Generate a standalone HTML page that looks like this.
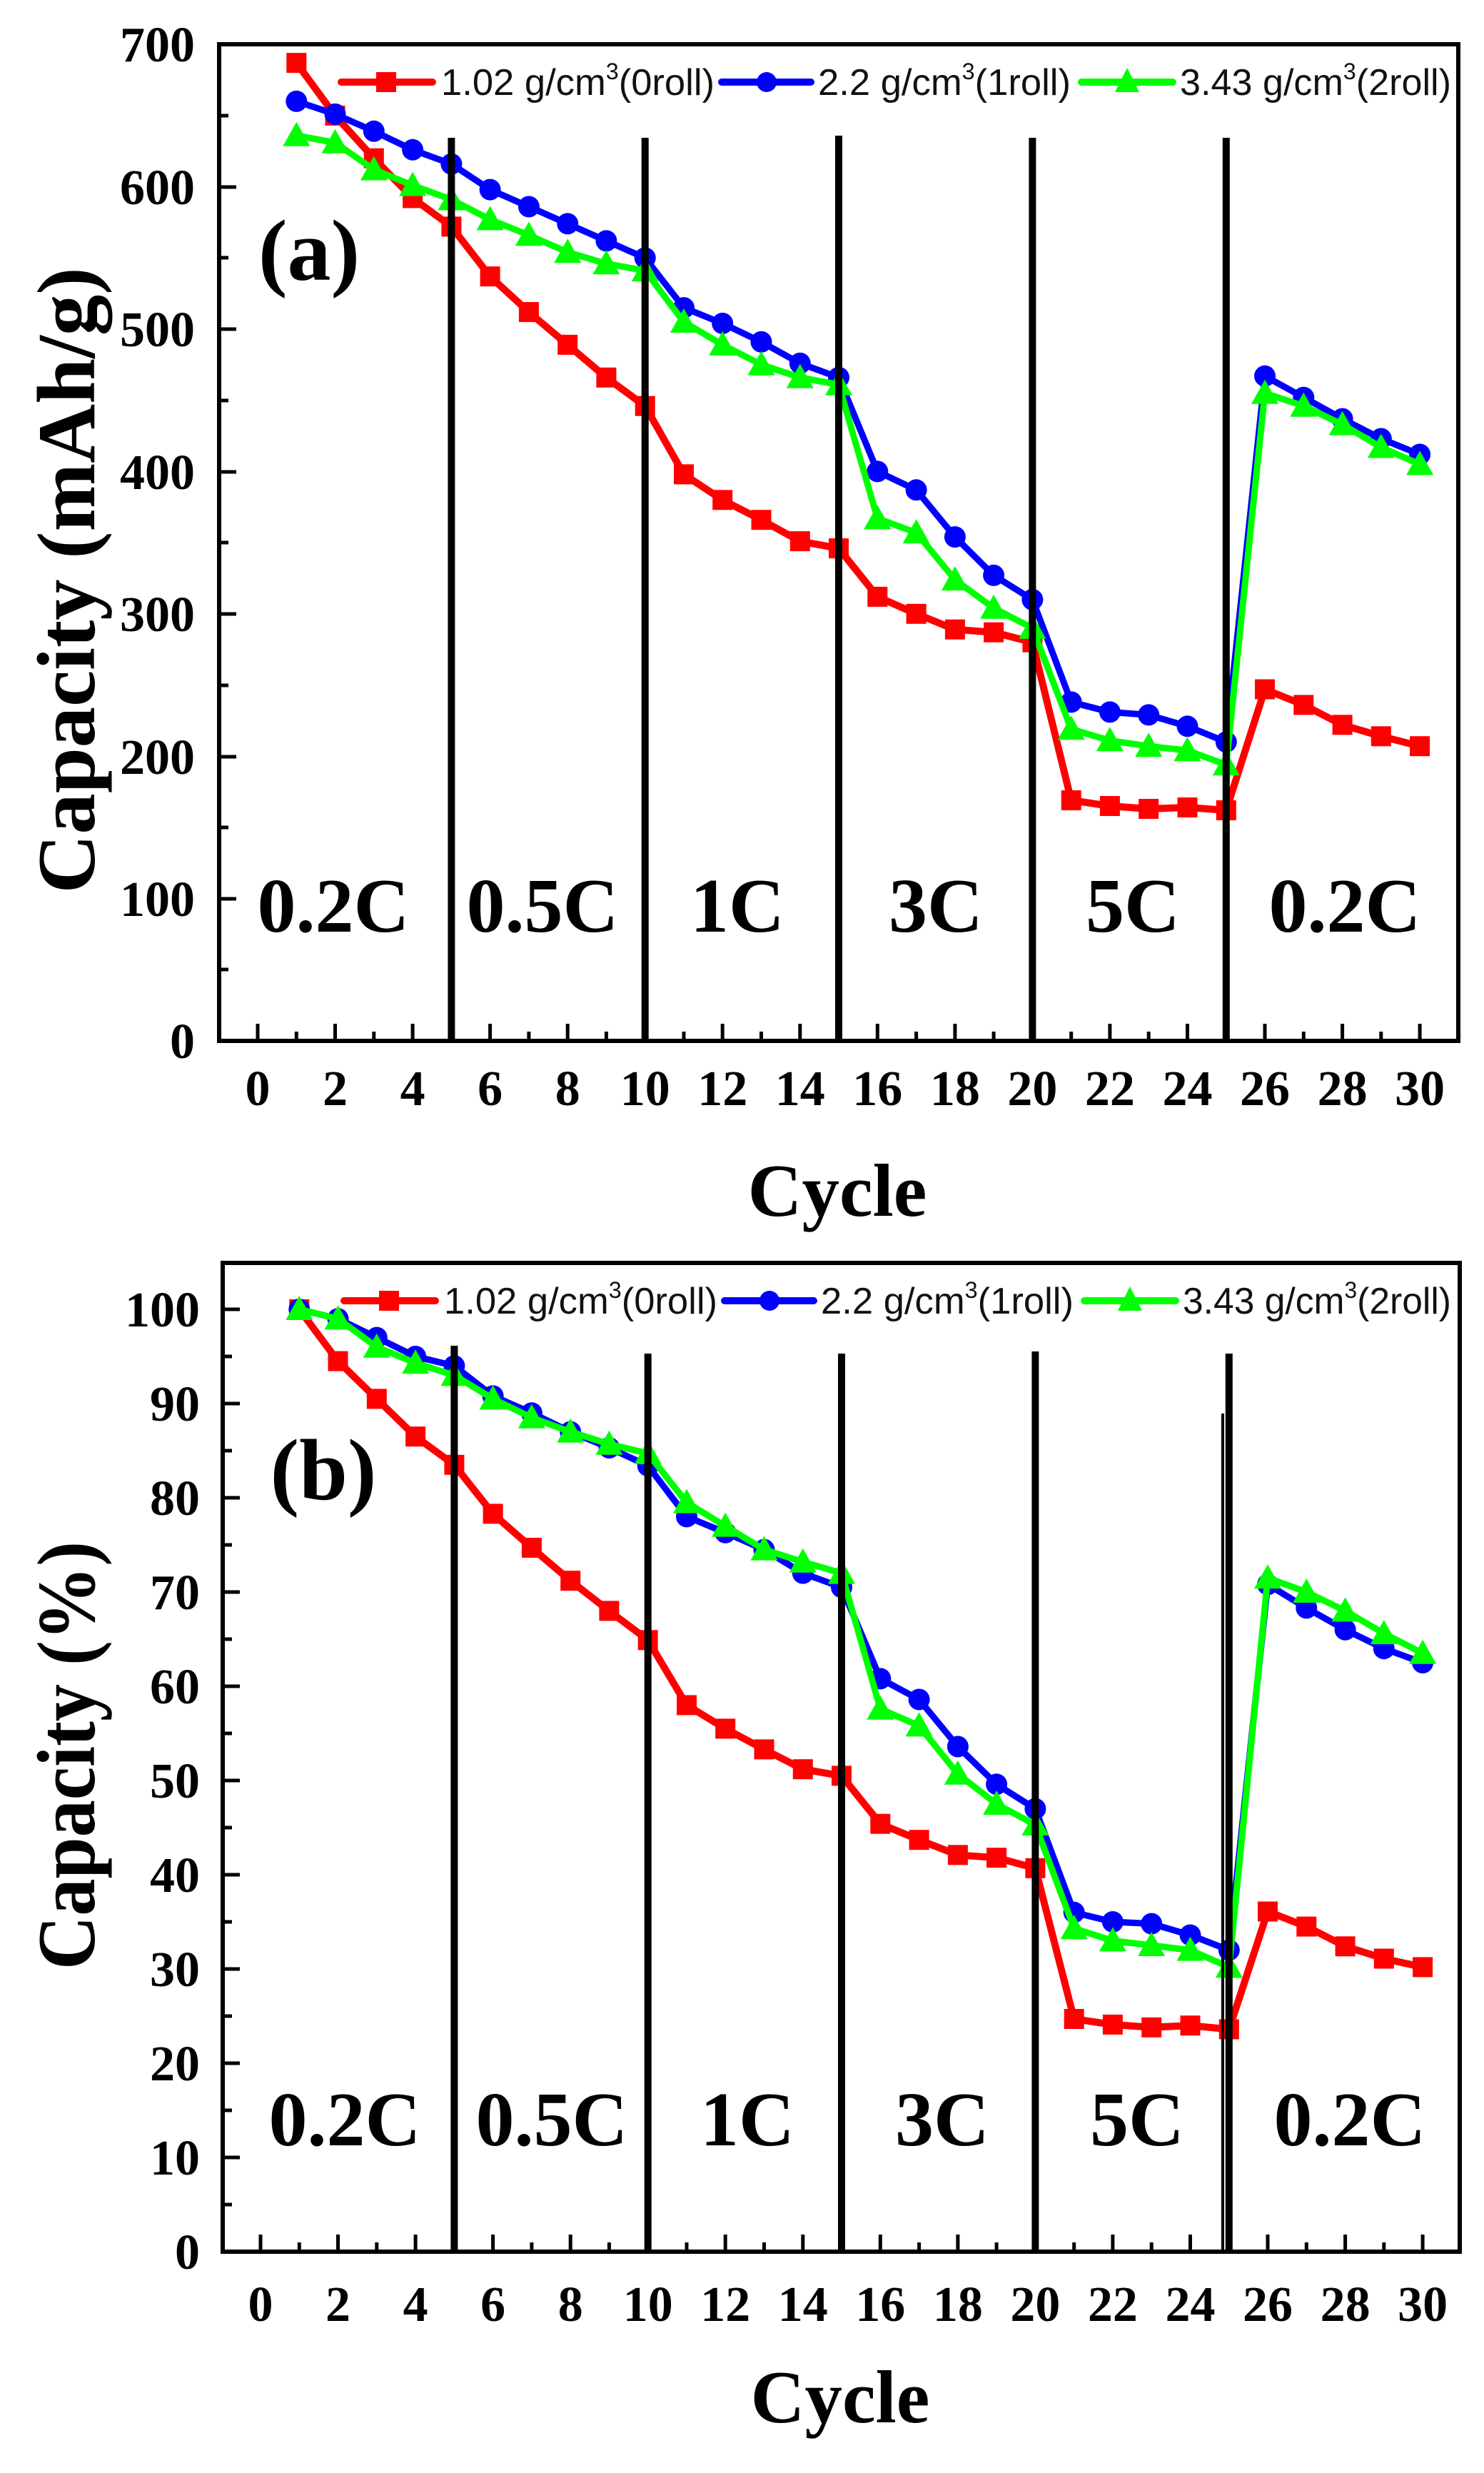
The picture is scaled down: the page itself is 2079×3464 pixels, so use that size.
<!DOCTYPE html>
<html><head><meta charset="utf-8"><style>
html,body{margin:0;padding:0;background:#fff}
svg{display:block}
.t{font-family:"Liberation Serif",serif;font-weight:bold;fill:#000}
.l{font-family:"Liberation Sans",sans-serif;fill:#111}
</style></head><body>
<svg width="2079" height="3464" viewBox="0 0 2079 3464" xmlns="http://www.w3.org/2000/svg">
<defs>
<marker id="ms" markerUnits="userSpaceOnUse" markerWidth="30" markerHeight="30" refX="15" refY="15" overflow="visible"><rect x="1" y="1" width="28" height="28" fill="#f00"/></marker>
<marker id="mc" markerUnits="userSpaceOnUse" markerWidth="32" markerHeight="32" refX="16" refY="16" overflow="visible"><circle cx="16" cy="16" r="15" fill="#00f"/></marker>
<marker id="mt" markerUnits="userSpaceOnUse" markerWidth="40" markerHeight="40" refX="20" refY="22" overflow="visible"><polygon points="20,3 39,37 1,37" fill="#0f0"/></marker>
</defs>
<rect width="2079" height="3464" fill="#fff"/>

<!-- ===== PANEL A ===== -->
<g fill="none" stroke-linejoin="round">
<polyline stroke="#f00" stroke-width="10" marker-start="url(#ms)" marker-mid="url(#ms)" marker-end="url(#ms)" points="415.3,88.1 469.5,161.9 523.8,221.7 578.1,277.5 632.4,317.4 686.6,387.2 740.9,437.1 795.2,482.9 849.4,528.8 903.7,568.7 958,664.4 1012.2,700.3 1066.5,728.2 1120.8,758.1 1175,768.1 1229.3,835.9 1283.6,859.8 1337.9,881.7 1392.1,885.7 1446.4,899.7 1500.7,1121 1554.9,1129 1609.2,1133 1663.5,1131 1717.8,1135 1772,965.5 1826.3,987.4 1880.6,1015.3 1934.8,1031.3 1989.1,1045.2"/>
<polyline stroke="#00f" stroke-width="9" marker-start="url(#mc)" marker-mid="url(#mc)" marker-end="url(#mc)" points="415.3,141.9 469.5,159.9 523.8,183.8 578.1,209.8 632.4,229.7 686.6,265.6 740.9,289.5 795.2,313.4 849.4,337.4 903.7,361.3 958,431.1 1012.2,453 1066.5,478.9 1120.8,508.9 1175,528.8 1229.3,660.4 1283.6,686.3 1337.9,752.1 1392.1,805.9 1446.4,839.9 1500.7,983.4 1554.9,997.4 1609.2,1001.4 1663.5,1017.3 1717.8,1039.3 1772,526.8 1826.3,556.7 1880.6,586.6 1934.8,614.5 1989.1,636.5"/>
<polyline stroke="#0f0" stroke-width="9" marker-start="url(#mt)" marker-mid="url(#mt)" marker-end="url(#mt)" points="415.3,189.8 469.5,199.8 523.8,237.6 578.1,259.6 632.4,279.5 686.6,307.5 740.9,329.4 795.2,353.3 849.4,369.3 903.7,379.2 958,451 1012.2,482.9 1066.5,510.8 1120.8,528.8 1175,538.8 1229.3,726.2 1283.6,746.1 1337.9,812.1 1392.1,851.8 1446.4,879.7 1500.7,1021.3 1554.9,1037.3 1609.2,1045.2 1663.5,1051.2 1717.8,1071.2 1772,550.7 1826.3,568.7 1880.6,594.6 1934.8,626.5 1989.1,650.4"/>
</g>
<g stroke="#000" stroke-width="10">
<line x1="632.4" y1="193" x2="632.4" y2="1458"/>
<line x1="903.7" y1="193" x2="903.7" y2="1458"/>
<line x1="1175" y1="190" x2="1175" y2="1458"/>
<line x1="1446.4" y1="193" x2="1446.4" y2="1458"/>
<line x1="1717.8" y1="193" x2="1717.8" y2="1458"/>
</g>
<rect x="307" y="62" width="1736" height="1396" fill="none" stroke="#000" stroke-width="6"/>
<g stroke="#000" stroke-width="5">
<!-- y ticks -->
<path d="M307,1259h24M307,1060h24M307,860h24M307,661h24M307,461h24M307,262h24"/>
<path d="M307,1358h13M307,1159h13M307,960h13M307,760h13M307,561h13M307,361h13M307,162h13"/>
<!-- x ticks -->
<path d="M361,1458v-24M469.5,1458v-24M578.1,1458v-24M686.6,1458v-24M795.2,1458v-24M903.7,1458v-24M1012.2,1458v-24M1120.8,1458v-24M1229.3,1458v-24M1337.9,1458v-24M1446.4,1458v-24M1554.9,1458v-24M1663.5,1458v-24M1772,1458v-24M1880.6,1458v-24M1989.1,1458v-24"/>
<path d="M415.3,1458v-13M523.8,1458v-13M632.4,1458v-13M740.9,1458v-13M849.4,1458v-13M958,1458v-13M1066.5,1458v-13M1175,1458v-13M1283.6,1458v-13M1392.1,1458v-13M1500.7,1458v-13M1609.2,1458v-13M1717.8,1458v-13M1826.3,1458v-13M1934.8,1458v-13"/>
</g>
<g class="t" font-size="70" text-anchor="end">
<text x="273" y="1482">0</text><text x="273" y="1283">100</text><text x="273" y="1084">200</text><text x="273" y="884">300</text><text x="273" y="685">400</text><text x="273" y="485">500</text><text x="273" y="286">600</text><text x="273" y="86">700</text>
</g>
<g class="t" font-size="70" text-anchor="middle">
<text x="361" y="1548">0</text><text x="469.5" y="1548">2</text><text x="578.1" y="1548">4</text><text x="686.6" y="1548">6</text><text x="795.2" y="1548">8</text><text x="903.7" y="1548">10</text><text x="1012.2" y="1548">12</text><text x="1120.8" y="1548">14</text><text x="1229.3" y="1548">16</text><text x="1337.9" y="1548">18</text><text x="1446.4" y="1548">20</text><text x="1554.9" y="1548">22</text><text x="1663.5" y="1548">24</text><text x="1772" y="1548">26</text><text x="1880.6" y="1548">28</text><text x="1989.1" y="1548">30</text>
</g>
<text class="t" font-size="105" x="1173" y="1703" text-anchor="middle">Cycle</text>
<text class="t" font-size="115" text-anchor="middle" transform="translate(132,813) rotate(-90)" textLength="877" lengthAdjust="spacingAndGlyphs">Capacity (mAh/g)</text>
<text class="t" font-size="122" x="433" y="392" text-anchor="middle">(a)</text>
<g class="t" font-size="108" text-anchor="middle">
<text x="467" y="1305">0.2C</text><text x="760" y="1305">0.5C</text><text x="1033" y="1305">1C</text><text x="1311" y="1305">3C</text><text x="1587" y="1305">5C</text><text x="1884" y="1305">0.2C</text>
</g>
<!-- legend A -->
<g>
<line x1="478" y1="115" x2="606" y2="115" stroke="#f00" stroke-width="10" stroke-linecap="round"/><rect x="527" y="101" width="28" height="28" fill="#f00"/>
<text class="l" font-size="52" x="618" y="133" textLength="383" lengthAdjust="spacingAndGlyphs">1.02 g/cm<tspan font-size="32" dy="-22">3</tspan><tspan dy="22">(0roll)</tspan></text>
<line x1="1011" y1="115" x2="1136" y2="115" stroke="#00f" stroke-width="10" stroke-linecap="round"/><circle cx="1074" cy="115" r="14" fill="#00f"/>
<text class="l" font-size="52" x="1146" y="133" textLength="354" lengthAdjust="spacingAndGlyphs">2.2 g/cm<tspan font-size="32" dy="-22">3</tspan><tspan dy="22">(1roll)</tspan></text>
<line x1="1515" y1="115" x2="1643" y2="115" stroke="#0f0" stroke-width="10" stroke-linecap="round"/><polygon points="1579,95 1596,129 1562,129" fill="#0f0"/>
<text class="l" font-size="52" x="1653" y="133" textLength="380" lengthAdjust="spacingAndGlyphs">3.43 g/cm<tspan font-size="32" dy="-22">3</tspan><tspan dy="22">(2roll)</tspan></text>
</g>

<!-- ===== PANEL B ===== -->
<g transform="translate(4,0)">
<g fill="none" stroke-linejoin="round">
<polyline stroke="#f00" stroke-width="10" marker-start="url(#ms)" marker-mid="url(#ms)" marker-end="url(#ms)" points="415.3,1834 469.5,1906.6 523.8,1959.4 578.1,2012.2 632.4,2051.8 686.6,2120.4 740.9,2168 795.2,2214.2 849.4,2256.4 903.7,2297.3 958,2388.4 1012.2,2421.4 1066.5,2450.4 1120.8,2478.2 1175,2487.4 1229.3,2554.7 1283.6,2577.2 1337.9,2598.3 1392.1,2602.2 1446.4,2616.8 1500.7,2828 1554.9,2835.9 1609.2,2839.8 1663.5,2837.2 1717.8,2842.5 1772,2677.5 1826.3,2698.6 1880.6,2726.3 1934.8,2743.5 1989.1,2755.4"/>
<polyline stroke="#00f" stroke-width="9" marker-start="url(#mc)" marker-mid="url(#mc)" marker-end="url(#mc)" points="415.3,1834 469.5,1847.2 523.8,1873.6 578.1,1900 632.4,1913.2 686.6,1955.4 740.9,1979.2 795.2,2005.6 849.4,2028 903.7,2053.1 958,2124.4 1012.2,2146.8 1066.5,2170.6 1120.8,2203.6 1175,2223.4 1229.3,2351.4 1283.6,2380.5 1337.9,2446.5 1392.1,2499.3 1446.4,2533.6 1500.7,2678.8 1554.9,2692 1609.2,2694.6 1663.5,2710.5 1717.8,2731.6 1772,2219.4 1826.3,2252.4 1880.6,2282.8 1934.8,2309.2 1989.1,2329"/>
<polyline stroke="#0f0" stroke-width="9" marker-start="url(#mt)" marker-mid="url(#mt)" marker-end="url(#mt)" points="415.3,1834 469.5,1847.2 523.8,1886.8 578.1,1909.2 632.4,1926.4 686.6,1959.4 740.9,1985.8 795.2,2005.6 849.4,2022.8 903.7,2035.8 958,2104.6 1012.2,2137.6 1066.5,2170.6 1120.8,2187.8 1175,2203.6 1229.3,2393.7 1283.6,2417.4 1337.9,2484.8 1392.1,2527 1446.4,2556 1500.7,2701.2 1554.9,2718.4 1609.2,2725 1663.5,2731.6 1717.8,2755.4 1772,2210.2 1826.3,2230 1880.6,2256.4 1934.8,2288.1 1989.1,2315.8"/>
</g>
<g stroke="#000" stroke-width="10">
<line x1="632.4" y1="1885" x2="632.4" y2="3154"/>
<line x1="903.7" y1="1896" x2="903.7" y2="3154"/>
<line x1="1175" y1="1896" x2="1175" y2="3154"/>
<line x1="1446.4" y1="1893" x2="1446.4" y2="3154"/>
<line x1="1717.8" y1="1896" x2="1717.8" y2="3154"/>
</g>
<line x1="1709" y1="1980" x2="1709" y2="3154" stroke="#000" stroke-width="4"/>
</g>
<rect x="312" y="1769" width="1733" height="1385" fill="none" stroke="#000" stroke-width="6"/>
<g stroke="#000" stroke-width="5">
<path d="M312,3022h24M312,2890h24M312,2758h24M312,2626h24M312,2494h24M312,2362h24M312,2230h24M312,2098h24M312,1966h24M312,1834h24"/>
<path d="M312,3088h13M312,2956h13M312,2824h13M312,2692h13M312,2560h13M312,2428h13M312,2296h13M312,2164h13M312,2032h13M312,1900h13"/>
<path d="M365,3154v-24M473.5,3154v-24M582.1,3154v-24M690.6,3154v-24M799.2,3154v-24M907.7,3154v-24M1016.2,3154v-24M1124.8,3154v-24M1233.3,3154v-24M1341.9,3154v-24M1450.4,3154v-24M1558.9,3154v-24M1667.5,3154v-24M1776,3154v-24M1884.6,3154v-24M1993.1,3154v-24"/>
<path d="M419.3,3154v-13M527.8,3154v-13M636.4,3154v-13M744.9,3154v-13M853.4,3154v-13M962,3154v-13M1070.5,3154v-13M1179,3154v-13M1287.6,3154v-13M1396.1,3154v-13M1504.7,3154v-13M1613.2,3154v-13M1721.8,3154v-13M1830.3,3154v-13M1938.8,3154v-13"/>
</g>
<g class="t" font-size="70" text-anchor="end">
<text x="280" y="3178">0</text><text x="280" y="3046">10</text><text x="280" y="2914">20</text><text x="280" y="2782">30</text><text x="280" y="2650">40</text><text x="280" y="2518">50</text><text x="280" y="2386">60</text><text x="280" y="2254">70</text><text x="280" y="2122">80</text><text x="280" y="1990">90</text><text x="280" y="1858">100</text>
</g>
<g class="t" font-size="70" text-anchor="middle">
<text x="365" y="3251">0</text><text x="473.5" y="3251">2</text><text x="582.1" y="3251">4</text><text x="690.6" y="3251">6</text><text x="799.2" y="3251">8</text><text x="907.7" y="3251">10</text><text x="1016.2" y="3251">12</text><text x="1124.8" y="3251">14</text><text x="1233.3" y="3251">16</text><text x="1341.9" y="3251">18</text><text x="1450.4" y="3251">20</text><text x="1558.9" y="3251">22</text><text x="1667.5" y="3251">24</text><text x="1776" y="3251">26</text><text x="1884.6" y="3251">28</text><text x="1993.1" y="3251">30</text>
</g>
<text class="t" font-size="105" x="1177" y="3393" text-anchor="middle">Cycle</text>
<text class="t" font-size="115" text-anchor="middle" transform="translate(132,2459) rotate(-90)" textLength="600" lengthAdjust="spacingAndGlyphs">Capacity (%)</text>
<text class="t" font-size="122" x="453" y="2100" text-anchor="middle">(b)</text>
<g class="t" font-size="108" text-anchor="middle">
<text x="483" y="3005">0.2C</text><text x="773" y="3005">0.5C</text><text x="1047" y="3005">1C</text><text x="1320" y="3005">3C</text><text x="1593" y="3005">5C</text><text x="1891" y="3005">0.2C</text>
</g>
<g transform="translate(4,1707)">
<line x1="478" y1="115" x2="606" y2="115" stroke="#f00" stroke-width="10" stroke-linecap="round"/><rect x="527" y="101" width="28" height="28" fill="#f00"/>
<text class="l" font-size="52" x="618" y="133" textLength="383" lengthAdjust="spacingAndGlyphs">1.02 g/cm<tspan font-size="32" dy="-22">3</tspan><tspan dy="22">(0roll)</tspan></text>
<line x1="1011" y1="115" x2="1136" y2="115" stroke="#00f" stroke-width="10" stroke-linecap="round"/><circle cx="1074" cy="115" r="14" fill="#00f"/>
<text class="l" font-size="52" x="1146" y="133" textLength="354" lengthAdjust="spacingAndGlyphs">2.2 g/cm<tspan font-size="32" dy="-22">3</tspan><tspan dy="22">(1roll)</tspan></text>
<line x1="1515" y1="115" x2="1643" y2="115" stroke="#0f0" stroke-width="10" stroke-linecap="round"/><polygon points="1579,95 1596,129 1562,129" fill="#0f0"/>
<text class="l" font-size="52" x="1653" y="133" textLength="376" lengthAdjust="spacingAndGlyphs">3.43 g/cm<tspan font-size="32" dy="-22">3</tspan><tspan dy="22">(2roll)</tspan></text>
</g>
</svg>
</body></html>
